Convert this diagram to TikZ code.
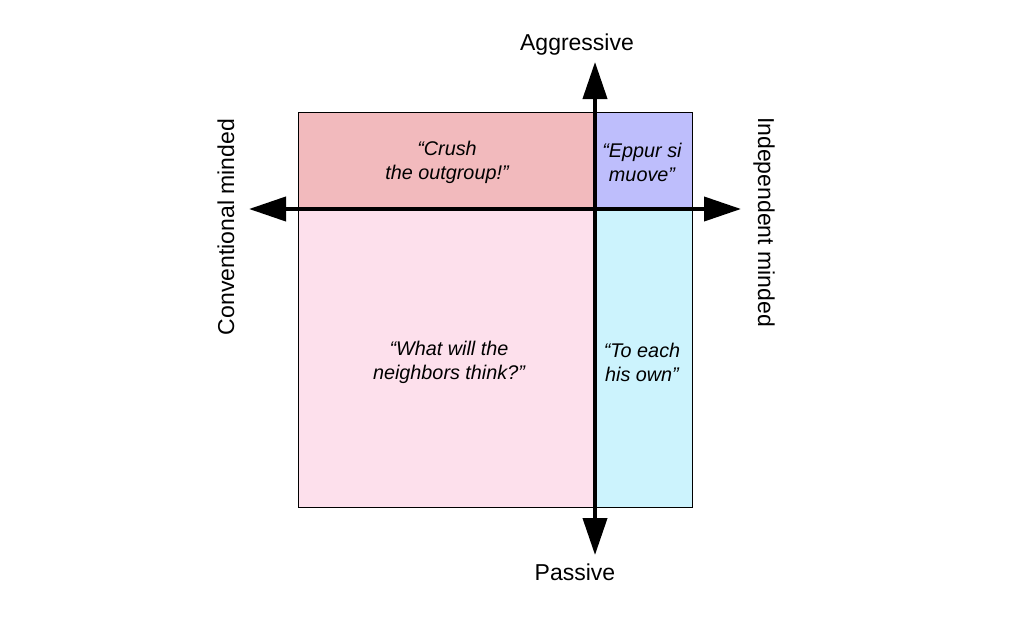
\documentclass[tikz,border=0pt]{standalone}
\usepackage{fontspec}
\setmainfont{Liberation Sans}
\usetikzlibrary{arrows.meta}
\definecolor{qtl}{RGB}{242,186,189}
\definecolor{qtr}{RGB}{190,190,252}
\definecolor{qbl}{RGB}{253,224,236}
\definecolor{qbr}{RGB}{204,243,253}
\tikzset{
  axis/.style={line width=4pt,-{Triangle[length=37pt,width=24pt]}},
  lab/.style={font=\fontsize{23}{27}\selectfont, inner sep=0pt},
  quote/.style={font=\fontsize{19.8}{24}\selectfont\itshape, align=center, inner sep=0pt}
}
\begin{document}
\begin{tikzpicture}[x=1pt,y=-1pt]
\useasboundingbox (0,0) rectangle (1024,626);
\fill[qtl] (298,112) rectangle (595,209);
\fill[qtr] (595,112) rectangle (692,209);
\fill[qbl] (298,209) rectangle (595,507);
\fill[qbr] (595,209) rectangle (692,507);
\draw[line width=1pt] (298,112) rectangle (692,507);
\coordinate (c) at (595,209);
\coordinate (up) at (595,62);
\coordinate (down) at (595,555);
\coordinate (left) at (249,209);
\coordinate (right) at (741,209);
\draw[axis] (c) -- (up);
\draw[axis] (c) -- (down);
\draw[axis] (c) -- (left);
\draw[axis] (c) -- (right);
\node[lab] (ag) at (577,45) {Aggressive};
\node[lab] (pa) at (575,572) {Passive};
\node[lab, rotate=90] (cm) at (226,227) {Conventional minded};
\node[lab, rotate=-90] (im) at (764,222) {Independent minded};
\node[quote] (q1) at (447,162) {“Crush\\the outgroup!”};
\node[quote] (q2) at (642,162) {“Eppur si\\muove”};
\node[quote] (q3) at (449,362) {“What will the\\neighbors think?”};
\node[quote] (q4) at (642,362) {“To each\\his own”};
\end{tikzpicture}
\end{document}
